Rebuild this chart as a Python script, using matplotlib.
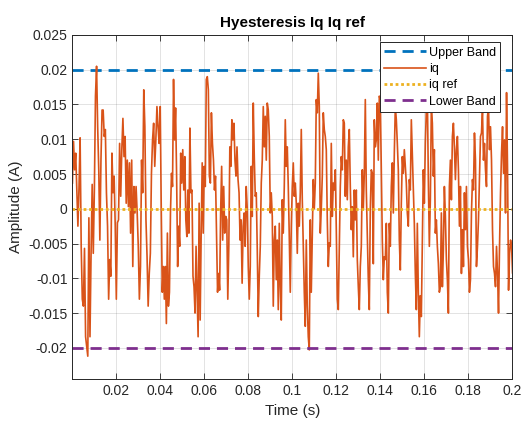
import matplotlib
import numpy as np

matplotlib.use("Agg")

import matplotlib.pyplot as plt

# iq, in units of 1e-3 A, split into five time windows
seg_edges = [0.0002, 0.0401, 0.0801, 0.1201, 0.1601, 0.2011]

iq_seg1 = [3.7, 9.7, 5.6, 8.0, 2.7, -2.5, 3.0, 10.2, -5.4, -13.0, -14.0, -5.7, -18.4, -19.8,
           -21.2, -1.3, -18.4, -6.4, 3.5, -6.4, 2.7, 16.2, 20.5, 11.8, 5.6, -4.5, 7.0, 14.2,
           14.2, 10.4, 11.4, 2.3, -2.5, -13.0, -7.3, -9.7, 8.0, 2.3, 4.7, -2.5, -13.0, -2.0,
           -1.6, 9.4, 1.8, 8.5, 13.0, 7.5, 10.4, 0.8, 7.0, 0.3, 6.6, -3.5, 7.0, -8.3, 3.2,
           -0.6, 3.2, -0.6, -5.4, -13.0, -8.3, 7.0, 2.3, 17.1, 11.8, -1.6, -6.9, -14.0, -9.3,
           -6.4, 5.1, 9.9, 12.3, 6.1, 9.9, 14.7, 11.8, 9.4]
iq_seg2 = [14.7, 0.0, -12.0, -8.3, -13.0, -8.3, -16.5, -3.5, -14.0, -12.0, -0.6, 5.1, 3.2,
           18.6, 9.9, 14.5, 4.7, -8.3, -2.5, -5.4, 8.0, 3.7, 8.5, 2.7, 7.5, -1.6, -4.0, 2.7,
           -3.5, 11.6, 2.3, 2.7, -9.7, -11.2, -15.0, -5.4, -11.7, -18.4, 0.8, -16.0, -3.5,
           6.6, -3.5, 6.1, 3.2, 18.6, 19.0, 17.1, 4.7, 3.7, 13.8, 9.4, 7.0, 2.7, 4.7, -3.5,
           -12.0, -9.3, -11.7, -0.6, 6.1, -4.5, 3.2, -3.5, -1.1, -1.6, -13.0, -5.4, 8.9, 6.1,
           12.8, 9.9, 12.3, 7.0, 4.7, 8.9, 4.2, 2.3, -4.5, -1.6, -10.7, -2.5, -0.6, -5.4,
           3.2, 0.0]
iq_seg3 = [-8.3, -13.0, -8.3, 6.1, -1.1, 15.2, 7.5, 1.8, 2.3, -5.9, -15.5, -9.7, -5.4, 3.7,
           7.0, 14.7, 8.9, 13.3, 7.0, 15.2, 14.2, 10.4, -0.6, 2.3, -1.1, -14.0, -4.5, -2.5,
           -10.2, -4.5, -14.5, -2.1, -11.2, -16.0, 1.3, -3.5, 3.2, 12.8, 6.1, 8.9, 3.2, -4.0,
           -12.0, -2.5, 3.2, 6.6, 1.8, 3.7, 0.8, -6.4, 0.8, -2.5, 2.3, 11.4, 1.3, -5.4,
           -12.0, -16.9, -4.5, -14.0, -18.4, -20.3, -1.6, -12.0, -3.5, 4.2, 0.0, 3.7, 15.7,
           13.8, 19.5, 14.7, -3.5, 0.0, 4.7, 13.8, 11.4, 10.4, 8.5, -1.6, -8.3, -4.9, -5.4,
           9.4, -1.1, 3.7, 2.7, 5.6]
iq_seg4 = [-3.0, -13.0, -14.5, -5.4, 3.2, 7.5, 5.6, 12.8, 12.3, 1.8, 7.0, 1.3, 8.9, 11.4,
           3.2, -3.0, 0.3, -6.9, 2.7, -1.6, 2.7, -7.3, -11.2, -14.5, -8.3, -5.4, 5.6, 0.0,
           5.1, 15.7, 2.7, -3.5, -10.2, -14.5, 0.0, 5.6, 5.1, -7.9, 12.8, 8.9, 9.9, 15.2,
           7.0, 16.2, 15.7, 5.6, -4.5, -10.2, -6.9, -7.3, -2.1, -12.0, -15.0, -2.1, -5.4,
           3.2, 6.6, -0.6, 8.0, 14.7, 12.8, 9.4, 5.6, -4.5, -8.8, 0.8, 7.5, 5.1, 8.5, 6.1,
           3.7, -0.6, -2.5, 4.2, 2.7, 12.8, 8.0, 3.2, -2.1, -9.3, -14.5, -2.1, -12.0, -18.4,
           -12.5, -15.5, -5.4, 5.6]
iq_seg5 = [0.8, 9.4, 14.2, 16.6, 4.2, -5.4, 1.3, 14.7, 12.3, 4.7, 8.5, -3.5, -1.6, -5.4,
           -7.9, -12.0, -11.2, -0.6, -11.2, -5.9, 3.2, -1.1, -7.3, -10.2, -15.0, 3.2, 7.0,
           1.3, 10.4, 12.3, 8.9, 4.2, 8.5, 10.4, 5.6, -2.5, 3.2, -9.3, -3.0, -8.3, 2.3, -3.0,
           3.2, -5.4, -7.3, -12.0, -10.2, -0.6, 4.2, 2.7, 10.9, 7.0, -8.3, -5.4, -1.6, 4.7,
           10.4, 10.9, 14.2, 7.0, 9.4, 5.6, 3.2, 13.3, 14.7, 8.5, 11.8, 7.0, -3.0, -8.3,
           -9.3, -11.2, -5.4, -9.3, -15.0, -5.4, 2.3, 8.0, 11.8, 5.1, 9.9, -0.6, 16.7, 5.6,
           -11.7, -6.4, -4.5, -5.4, -9.3, -4.0]

upper_band = 0.02
iq_ref = 0.0
lower_band = -0.02

yticks = [-0.02, -0.015, -0.01, -0.005, 0, 0.005, 0.01, 0.015, 0.02, 0.025]
ytick_labels = ["-0.02", "-0.015", "-0.01", "-0.005", "0", "0.005", "0.01", "0.015", "0.02", "0.025"]
xticks = [0.02, 0.04, 0.06, 0.08, 0.1, 0.12, 0.14, 0.16, 0.18, 0.2]
xtick_labels = ["0.02", "0.04", "0.06", "0.08", "0.1", "0.12", "0.14", "0.16", "0.18", "0.2"]

segments = [iq_seg1, iq_seg2, iq_seg3, iq_seg4, iq_seg5]
t_parts = []
iq_parts = []
for k, seg in enumerate(segments):
    t_parts.append(np.linspace(seg_edges[k], seg_edges[k + 1], len(seg), endpoint=False))
    iq_parts.append(np.array(seg) * 1e-3)
t = np.concatenate(t_parts)
iq = np.concatenate(iq_parts)

plt.rcParams["font.family"] = ["Liberation Sans", "DejaVu Sans"]
plt.rcParams["axes.unicode_minus"] = False

fig = plt.figure(figsize=(5.21, 4.26), dpi=100)
ax = fig.add_axes([0.139, 0.110, 0.844, 0.808])

t_span = [t[0], 0.2]
ax.plot(t_span, [upper_band, upper_band], color="#0072BD", linestyle=(0, (4, 2.5)), linewidth=2, label="Upper Band")
ax.plot(t, iq, color="#D95319", linewidth=1.2, label="iq")
ax.plot(t_span, [iq_ref, iq_ref], color="#EDB120", linestyle=(0, (1, 1)), linewidth=2, label="iq ref")
ax.plot(t_span, [lower_band, lower_band], color="#7E2F8E", linestyle=(0, (4, 2.5)), linewidth=2, label="Lower Band")

ax.set_xlim(0.0002, 0.2)
ax.set_ylim(-0.0245, 0.025)
ax.set_xticks(xticks)
ax.set_xticklabels(xtick_labels)
ax.set_yticks(yticks)
ax.set_yticklabels(ytick_labels)
ax.tick_params(direction="in", top=True, right=True, labelsize=10, colors="#262626", length=4, width=0.6)
for spine in ax.spines.values():
    spine.set_color("#262626")
    spine.set_linewidth(0.7)
ax.grid(True, color="#262626", alpha=0.15, linewidth=0.6)

ax.set_title("Hyesteresis Iq Iq ref", fontsize=11, fontweight="bold", pad=6)
ax.set_xlabel("Time (s)", fontsize=11, color="#262626")
ax.set_ylabel("Amplitude (A)", fontsize=11, color="#262626")

leg = ax.legend(loc="upper right", bbox_to_anchor=(0.973, 0.979), borderaxespad=0, fontsize=9,
                handlelength=3.3, handletextpad=0.25, labelspacing=0.35, borderpad=0.35,
                fancybox=False, framealpha=1, edgecolor="#262626")
leg.get_frame().set_linewidth(0.7)

fig.savefig("out.png", dpi=100)
plt.close(fig)
